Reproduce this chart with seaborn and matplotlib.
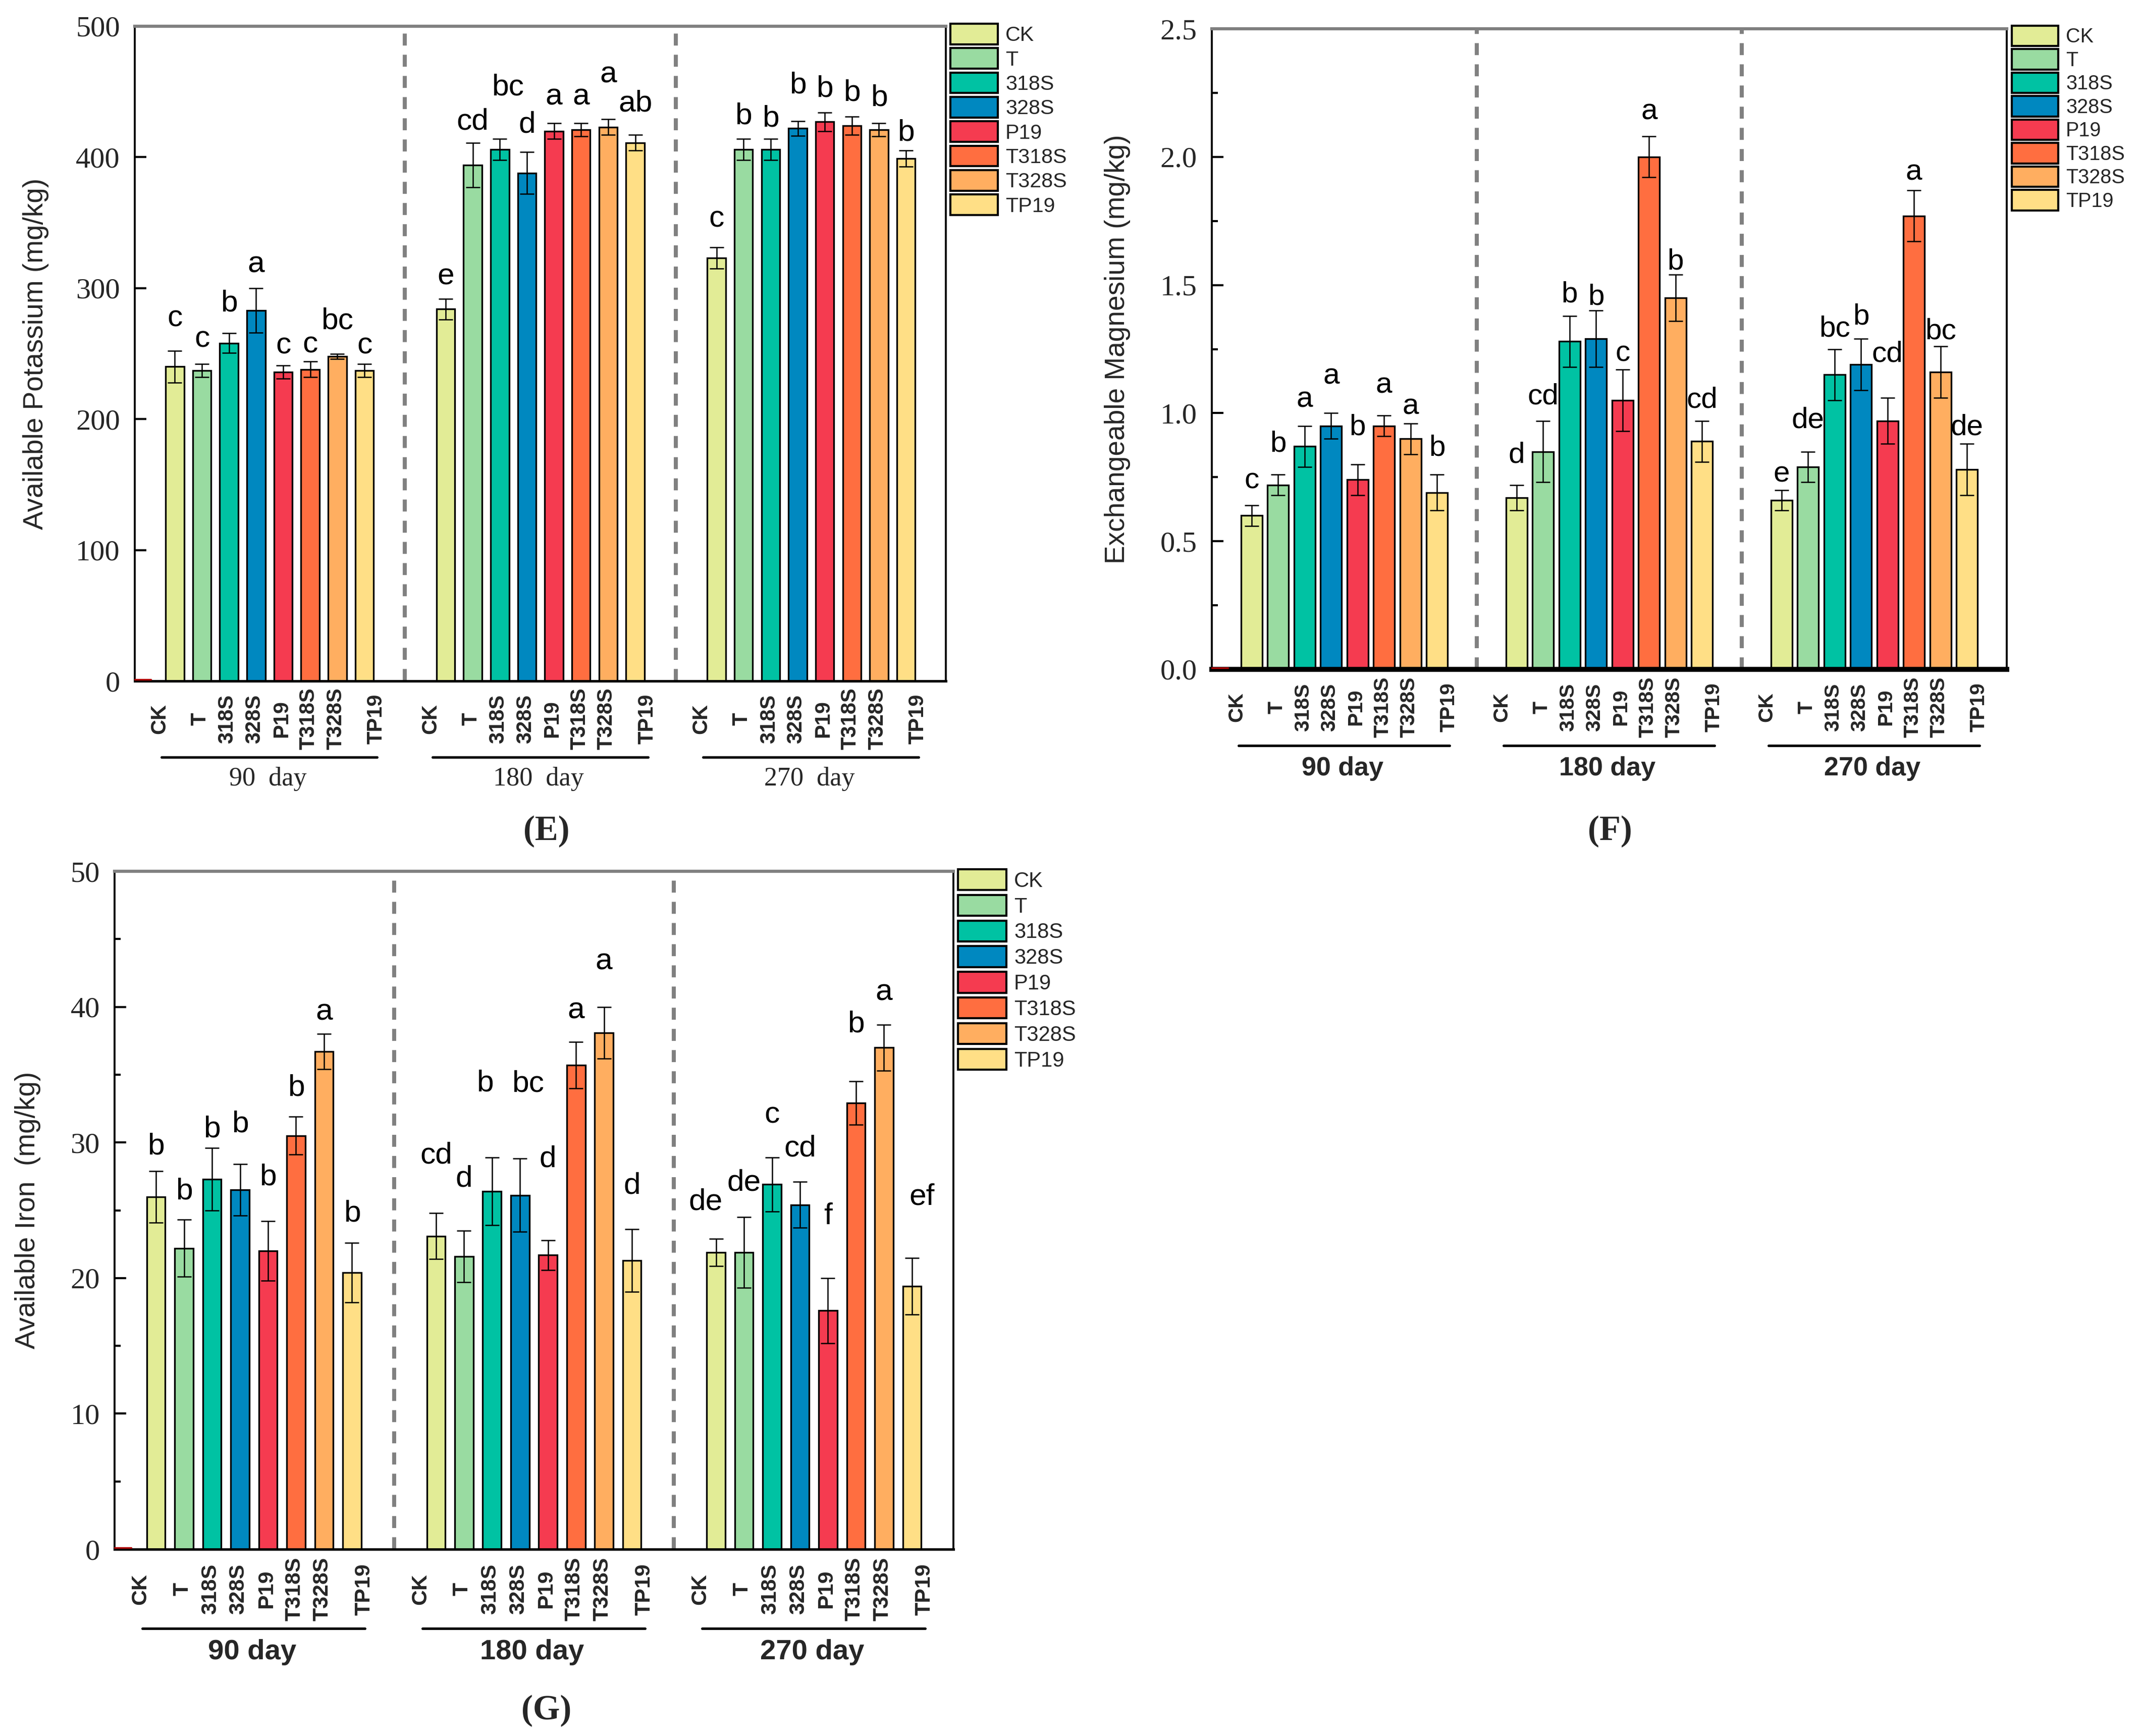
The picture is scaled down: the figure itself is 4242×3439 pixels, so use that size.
import numpy as np
import pandas as pd
import matplotlib
matplotlib.use("Agg")
import matplotlib.pyplot as plt
import seaborn as sns
from matplotlib.patches import Patch
from matplotlib.ticker import MultipleLocator
from matplotlib.transforms import blended_transform_factory

# ---------------- data ----------------
treatments = ["CK", "T", "318S", "328S", "P19", "T318S", "T328S", "TP19"]
colors = ["#E2EC96", "#99DBA1", "#00C2A3", "#0088C0", "#F53B50", "#FF6E40", "#FFAE60", "#FFDF86"]
days = ["90 day", "180 day", "270 day"]
days_serif = ["90  day", "180  day", "270  day"]

# (E) Available Potassium (mg/kg)
k_90 = [240, 237, 258, 283, 236, 238, 248, 237]
k_180 = [284, 394, 406, 388, 420, 421, 423, 411]
k_270 = [323, 406, 406, 422, 427, 424, 421, 399]
k_err_90 = [12, 5, 7.5, 17, 5, 6, 2, 5]
k_err_180 = [8, 17, 8, 16, 6, 5, 6, 6]
k_err_270 = [8, 8, 8, 5.5, 7, 7, 5, 6]
k_let_90 = ["c", "c", "b", "a", "c", "c", "bc", "c"]
k_let_180 = ["e", "cd", "bc", "d", "a", "a", "a", "ab"]
k_let_270 = ["c", "b", "b", "b", "b", "b", "b", "b"]

# (F) Exchangeable Magnesium (mg/kg)
mg_90 = [0.60, 0.72, 0.87, 0.95, 0.74, 0.95, 0.90, 0.69]
mg_180 = [0.67, 0.85, 1.28, 1.29, 1.05, 2.00, 1.45, 0.89]
mg_270 = [0.66, 0.79, 1.15, 1.19, 0.97, 1.77, 1.16, 0.78]
mg_err_90 = [0.04, 0.04, 0.08, 0.05, 0.06, 0.04, 0.06, 0.07]
mg_err_180 = [0.05, 0.12, 0.10, 0.11, 0.12, 0.08, 0.09, 0.08]
mg_err_270 = [0.04, 0.06, 0.10, 0.10, 0.09, 0.10, 0.10, 0.10]
mg_let_90 = ["c", "b", "a", "a", "b", "a", "a", "b"]
mg_let_180 = ["d", "cd", "b", "b", "c", "a", "b", "cd"]
mg_let_270 = ["e", "de", "bc", "b", "cd", "a", "bc", "de"]

# (G) Available Iron (mg/kg)
fe_90 = [26.0, 22.2, 27.3, 26.5, 22.0, 30.5, 36.7, 20.4]
fe_180 = [23.1, 21.6, 26.4, 26.1, 21.7, 35.7, 38.1, 21.3]
fe_270 = [21.9, 21.9, 26.9, 25.4, 17.6, 32.9, 37.0, 19.4]
fe_err_90 = [1.9, 2.1, 2.3, 1.9, 2.2, 1.4, 1.3, 2.2]
fe_err_180 = [1.7, 1.9, 2.5, 2.7, 1.1, 1.7, 1.9, 2.3]
fe_err_270 = [1.0, 2.6, 2.0, 1.7, 2.4, 1.6, 1.7, 2.1]
fe_let_90 = ["b", "b", "b", "b", "b", "b", "a", "b"]
fe_let_180 = ["cd", "d", "b", "bc", "d", "a", "a", "d"]
fe_let_270 = ["de", "de", "c", "cd", "f", "b", "a", "ef"]

# ---------------- layout (not data) ----------------
# gap (output pixels) between each error-bar cap and the baseline of its letter
LETTER_GAP_E = [[49, 34, 44, 31, 23, 18, 49, 21],
                [28, 26, 87, 39, 36, 36, 73, 47],
                [41, 30, 25, 56, 32, 31, 34, 20]]
LETTER_GAP_F = [[34, 46, 37, 58, 58, 45, 18, 38],
                [44, 33, 27, 12, 17, 34, 11, 26],
                [16, 47, 25, 29, 71, 20, 15, 18]]
LETTER_GAP_G = [[33, 41, 21, 64, 71, 42, 28, 42],
                [98, 87, 131, 133, 145, 47, 74, 71],
                [57, 52, 68, 51, 107, 98, 48, 105]]
# horizontal nudges (output pixels) for a few letters, keyed by (group, index)
LETTER_DX_E = {(1, 2): 16}
LETTER_DX_F = {}
LETTER_DX_G = {(1, 2): -14, (1, 3): 16, (2, 0): -20, (2, 7): 20}

# ---------------- style ----------------
sns.set_theme(style="ticks")
SANS = ["Liberation Sans", "DejaVu Sans"]
SERIF = ["Liberation Serif", "DejaVu Serif"]
plt.rcParams["font.family"] = SANS
plt.rcParams["axes.linewidth"] = 1.0

W, H = 4242, 3439
DPI = 300
PX2PT = 72 / DPI
fig = plt.figure(figsize=(W / DPI, H / DPI), dpi=DPI)


def px_rect(left, right, top, bottom):
    return [left / W, 1 - bottom / H, (right - left) / W, (bottom - top) / H]


def make_df(vals, errs, lets):
    rows = []
    for g in range(3):
        for i, t in enumerate(treatments):
            rows.append(dict(group=g, idx=i, pos=10 * g + i, value=vals[g][i],
                             err=errs[g][i], treatment=t, letter=lets[g][i]))
    return pd.DataFrame(rows)


label_shift = {"CK": -0.56, "TP19": 0.44}


def draw(ax, df, cfg):
    sns.barplot(data=df, x="pos", y="value", hue="treatment", hue_order=treatments,
                palette=dict(zip(treatments, colors)), native_scale=True, dodge=False,
                width=cfg["bar_w"], saturation=1, edgecolor="black", linewidth=0.8,
                errorbar=None, legend=False, ax=ax, zorder=2)
    ax.errorbar(df["pos"], df["value"], yerr=df["err"], fmt="none", ecolor="black",
                elinewidth=0.6, capsize=3.4, capthick=0.6, zorder=3)
    gaps = cfg["gaps"]
    for _, r in df.iterrows():
        key = (int(r["group"]), int(r["idx"]))
        gap_pt = gaps[key[0]][key[1]] * PX2PT
        dx_pt = cfg["dx"].get(key, 0) * PX2PT
        ax.annotate(r["letter"], (r["pos"], r["value"] + r["err"]),
                    xytext=(dx_pt, gap_pt), textcoords="offset points",
                    ha="center", va="baseline", fontsize=cfg["let_fs"],
                    fontfamily=SANS, color="black")
    for xv in (8.5, 18.5):
        ax.axvline(xv, color="#808080", lw=1.9, dashes=(3.0, 2.3), zorder=1)
    ax.set_xlim(cfg["xlim"])
    ax.set_ylim(0, cfg["ymax"])
    # y ticks
    yt = np.arange(0, cfg["ymax"] + cfg["ystep"] / 2, cfg["ystep"])
    ax.set_yticks(yt, labels=[cfg["fmt"](v) for v in yt], fontfamily=SERIF, fontsize=14)
    if cfg["minor"]:
        ax.yaxis.set_minor_locator(MultipleLocator(cfg["minor"]))
    ax.tick_params(axis="y", which="major", direction="in", length=5.5, width=1.0,
                   pad=7, left=True, right=False, color="black")
    ax.tick_params(axis="y", which="minor", direction="in", length=2.9, width=1.0,
                   left=True, right=False, color="black")
    # x tick labels
    xpos = [p + label_shift.get(t, -0.06) for p, t in zip(df["pos"], df["treatment"])]
    ax.set_xticks(xpos, labels=list(df["treatment"]), rotation=90, fontweight="bold",
                  fontsize=cfg["xt_fs"], va="center", ha="center", fontfamily=SANS)
    ax.tick_params(axis="x", length=0, pad=cfg["xt_pad"], bottom=True)
    ax.set_xlabel("")
    ax.set_ylabel(cfg["ylabel"], fontsize=13.2, fontfamily=SANS, va="center")
    ax.yaxis.set_label_coords(cfg["ylab_x"], 0.5)
    # spines
    for s in ("left", "right", "bottom", "top"):
        ax.spines[s].set_visible(True)
    ax.spines["top"].set_color("#808080")
    ax.spines["top"].set_linewidth(1.5)
    ax.spines["left"].set_color("black")
    ax.spines["left"].set_linewidth(0.9)
    ax.spines["right"].set_color("black")
    ax.spines["right"].set_linewidth(0.9)
    ax.spines["bottom"].set_color("black")
    ax.spines["bottom"].set_linewidth(cfg["bot_lw"])
    ax.plot([0, 0.02], [0.002, 0.002], transform=ax.transAxes, color="#B00000",
            lw=0.8, clip_on=False, zorder=6)
    # group lines and labels
    tr = blended_transform_factory(ax.transData, ax.transAxes)
    for g in range(3):
        x0 = 10 * g
        ax.plot([x0 - 0.49, x0 + 7.47], [cfg["gline_y"]] * 2, transform=tr,
                color="black", lw=1.2, clip_on=False)
        ax.text(x0 + 3.43, cfg["gtext_y"], cfg["gnames"][g], transform=tr,
                ha="center", va="center", fontsize=cfg["g_fs"],
                fontfamily=cfg["g_family"], fontweight=cfg["g_weight"])
    # legend
    handles = [Patch(facecolor=c, edgecolor="black", linewidth=1.0) for c in colors]
    fs = cfg["leg_fs"]
    em = fs / PX2PT
    ax.legend(handles, treatments, loc="upper left",
              bbox_to_anchor=(1 + cfg["leg_dx"], 1 + cfg["leg_dy"]),
              frameon=False, handlelength=cfg["hw"] / em,
              handleheight=cfg["hh"] / em, labelspacing=(cfg["pitch"] - cfg["hh"]) / em,
              handletextpad=15 / em, borderpad=0, borderaxespad=0,
              prop={"family": SANS, "size": fs})


# ---- (E) ----
axE = fig.add_axes(px_rect(267, 1874, 52, 1349))
draw(axE, make_df([k_90, k_180, k_270], [k_err_90, k_err_180, k_err_270],
                  [k_let_90, k_let_180, k_let_270]),
     dict(bar_w=0.68, let_fs=14.5, gaps=LETTER_GAP_E, dx=LETTER_DX_E,
          xlim=(-1.48, 28.47), ymax=500, ystep=100, fmt=lambda v: f"{v:.0f}",
          minor=None, xt_fs=10, xt_pad=18,
          ylabel="Available Potassium (mg/kg)", ylab_x=-0.122, bot_lw=1.2,
          gline_y=-0.1164, gtext_y=-0.1496, gnames=days_serif, g_fs=12.5,
          g_family=SERIF, g_weight="normal", leg_fs=9.9, leg_dx=9 / 1607,
          leg_dy=5 / 1297, hw=94, hh=47, pitch=53))

# ---- (F) ----
axF = fig.add_axes(px_rect(2401, 3976, 57, 1326))
draw(axF, make_df([mg_90, mg_180, mg_270], [mg_err_90, mg_err_180, mg_err_270],
                  [mg_let_90, mg_let_180, mg_let_270]),
     dict(bar_w=0.8, let_fs=14, gaps=LETTER_GAP_F, dx=LETTER_DX_F,
          xlim=(-1.5, 28.5), ymax=2.5, ystep=0.5, fmt=lambda v: f"{v:.1f}",
          minor=0.25, xt_fs=9.8, xt_pad=18,
          ylabel="Exchangeable Magnesium (mg/kg)", ylab_x=-0.119, bot_lw=2.4,
          gline_y=-0.119, gtext_y=-0.1545, gnames=days, g_fs=12.5,
          g_family=SANS, g_weight="bold", leg_fs=9.5, leg_dx=10 / 1575,
          leg_dy=6 / 1269, hw=92, hh=47, pitch=52))

# ---- (G) ----
axG = fig.add_axes(px_rect(227, 1889, 1726, 3069))
draw(axG, make_df([fe_90, fe_180, fe_270], [fe_err_90, fe_err_180, fe_err_270],
                  [fe_let_90, fe_let_180, fe_let_270]),
     dict(bar_w=0.66, let_fs=14.5, gaps=LETTER_GAP_G, dx=LETTER_DX_G,
          xlim=(-1.48, 28.48), ymax=50, ystep=10, fmt=lambda v: f"{v:.0f}",
          minor=5, xt_fs=10.3, xt_pad=19,
          ylabel="Available Iron  (mg/kg)", ylab_x=-0.1035, bot_lw=1.2,
          gline_y=-0.1169, gtext_y=-0.1519, gnames=days, g_fs=13.5,
          g_family=SANS, g_weight="bold", leg_fs=10, leg_dx=9 / 1662,
          leg_dy=4 / 1343, hw=96, hh=48, pitch=55))

# panel labels
fig.text(1083 / W, 1 - 1647 / H, "(E)", ha="center", va="center", fontsize=16.5,
         fontfamily=SERIF, fontweight="bold")
fig.text(3190 / W, 1 - 1647 / H, "(F)", ha="center", va="center", fontsize=16.5,
         fontfamily=SERIF, fontweight="bold")
fig.text(1083 / W, 1 - 3389 / H, "(G)", ha="center", va="center", fontsize=16.5,
         fontfamily=SERIF, fontweight="bold")

fig.savefig("out.png", dpi=DPI, facecolor="white")
